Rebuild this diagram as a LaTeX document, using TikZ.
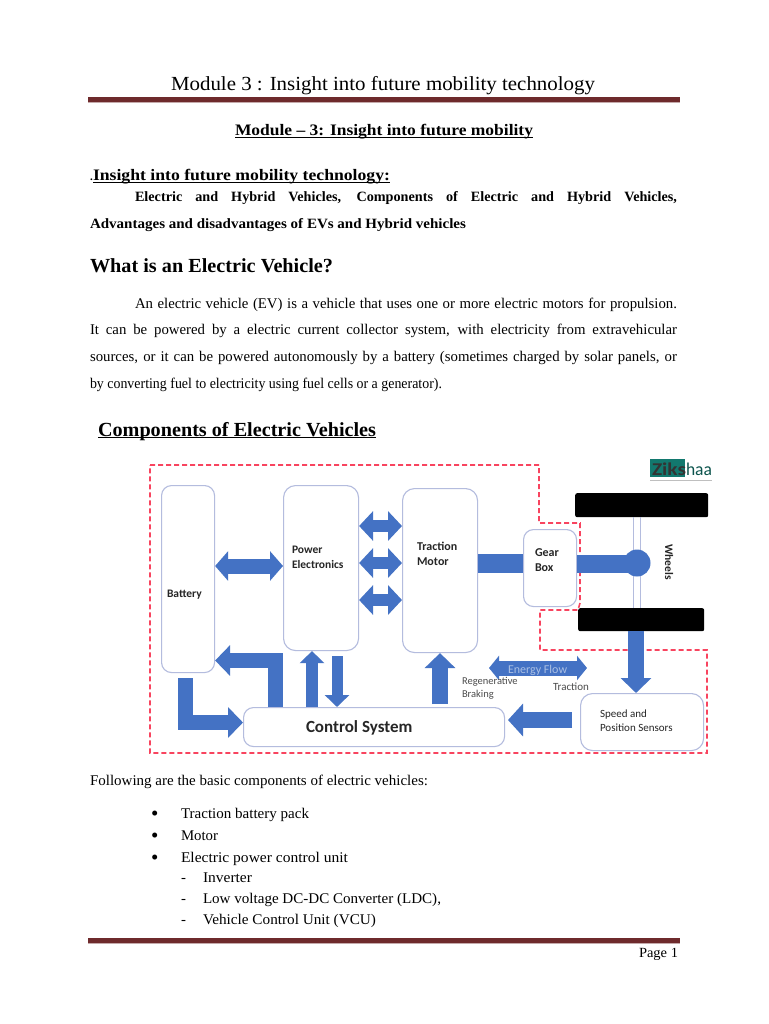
\documentclass[tikz,border=0pt]{standalone}
\usepackage{graphicx}
\usepackage{fontspec}
\setmainfont{Liberation Serif}
\newfontfamily\dia{Carlito}
\usetikzlibrary{arrows.meta}
\definecolor{evblue}{HTML}{4472C4}
\definecolor{evedge}{HTML}{B4BCDE}
\definecolor{evred}{HTML}{F8445F}
\definecolor{evrule}{HTML}{6E2A2C}
\definecolor{evteal}{HTML}{12786E}
\tikzset{
  box/.style={draw=evedge,line width=1.1pt,fill=white,rounded corners=#1,inner sep=0pt,anchor=north west},
  box/.default=10pt,
  tx/.style={anchor=base west,inner sep=0pt,outer sep=0pt,text=black},
  lab/.style={anchor=base west,inner sep=0pt,outer sep=0pt,font=\dia,align=left,text=black!85},
  wheel/.style={fill=black,rounded corners=2pt,inner sep=0pt,anchor=north west},
  blk/.style={draw=evblue,line join=miter,line cap=butt,line width=#1},
  blk/.default=15pt,
  dbl/.style n args={3}{draw=evblue,line width=#1,{Triangle[length=#2,width=#3]}-{Triangle[length=#2,width=#3]}},
  one/.style n args={3}{draw=evblue,line join=miter,line width=#1,-{Triangle[length=#2,width=#3]}},
}
% justified line: word spaces stretch to the width
\newcommand{\jl}[5]{\node[tx] (#1) at (#2,#3) {\makebox[#4pt][s]{#5}};}
% plain line: scaled to the width, spacing kept
\newcommand{\nl}[5]{\node[tx] (#1) at (#2,#3) {\resizebox{#4pt}{\height}{#5}};}
\newcommand{\ul}[5]{\node[tx] (#1) at (#2,#3) {\makebox[0pt][l]{\rule[-2.2pt]{#4pt}{1pt}}\resizebox{#4pt}{\height}{#5}};}
\begin{document}
\begin{tikzpicture}[x=1pt,y=-1pt]
\useasboundingbox (0,0) rectangle (768,1024);
\fill[white] (0,0) rectangle (768,1024);
% header
\nl{head}{171}{91}{424}{\fontsize{20}{20}\selectfont Module 3 : Insight into future mobility technology}
\fill[evrule] (88,97) rectangle (680,102);
\fill[evrule!40] (88,102) rectangle (680,103);
% text
\bfseries
\ul{t1}{235}{136}{298}{\fontsize{16}{16}\selectfont Module – 3: Insight into future mobility}
\node[tx] (t2a) at (90,181) {\fontsize{11}{11}\selectfont .};
\ul{t2}{93}{181}{297}{\fontsize{16}{16}\selectfont Insight into future mobility technology:}
\jl{t3}{135}{202}{542}{\fontsize{14.2}{14.2}\selectfont Electric and Hybrid Vehicles, Components of Electric and Hybrid Vehicles,}
\nl{t4}{90}{229}{376}{\fontsize{14.2}{14.2}\selectfont Advantages and disadvantages of EVs and Hybrid vehicles}
\nl{t5}{90}{272}{243}{\fontsize{20}{20}\selectfont What is an Electric Vehicle?}
\ul{t6}{98}{436}{278}{\fontsize{20}{20}\selectfont Components of Electric Vehicles}
\mdseries
\fontsize{14.8}{14.8}\selectfont
\jl{p1}{135}{308}{542}{An electric vehicle (EV) is a vehicle that uses one or more electric motors for propulsion.}
\jl{p2}{90}{334}{587}{It can be powered by a electric current collector system, with electricity from extravehicular}
\jl{p3}{90}{361}{587}{sources, or it can be powered autonomously by a battery (sometimes charged by solar panels, or}
\nl{p4}{90}{388}{352}{by converting fuel to electricity using fuel cells or a generator).}
\nl{f0}{90}{785}{338}{Following are the basic components of electric vehicles:}
\foreach \n/\y/\w/\s in {a/818/128/Traction battery pack,b/840/37/Motor,c/862/167/Electric power control unit}{
  \node[tx] (b\n) at (151,\y+2.5) {\fontsize{21}{21}\selectfont •};
  \nl{l\n}{181}{\y}{\w}{\s}
}
\foreach \n/\y/\w/\s in {d/882/49/Inverter,e/903/238/{Low voltage DC-DC Converter (LDC),},f/924/173/{Vehicle Control Unit (VCU)}}{
  \node[tx] (b\n) at (181,\y) {-};
  \nl{l\n}{203}{\y}{\w}{\s}
}
% footer
\fill[evrule] (88,938) rectangle (680,943);
\fill[evrule!40] (88,943) rectangle (680,944);
\nl{pg}{639}{957}{39}{\fontsize{14}{14}\selectfont Page 1}

% --- diagram ---
\draw[evred,line width=1.6pt,dash pattern=on 5pt off 3pt]
  (150,465) -- (539,465) -- (539,523) -- (580,523) -- (580,603) -- (578,610) -- (540,610) -- (540,650) -- (707,650) -- (707,753) -- (150,753) -- cycle;

\node[box] (bat) at (161,485) [minimum width=53pt,minimum height=187pt] {};
\node[box=12pt] (pe) at (283,485) [minimum width=75pt,minimum height=165pt] {};
\node[box=12pt] (tm) at (402,488) [minimum width=75pt,minimum height=164pt] {};
\node[box] (gb) at (523,529) [minimum width=53pt,minimum height=77pt] {};
\node[box] (cs) at (243,707) [minimum width=261pt,minimum height=39pt] {};
\node[box=12pt] (ss) at (580,693) [minimum width=123pt,minimum height=57pt] {};
\node[wheel] (wt) at (575,493) [minimum width=133pt,minimum height=24pt] {};
\node[wheel] (wb) at (578,608) [minimum width=126pt,minimum height=23pt] {};

% row coordinates
\coordinate (r0) at (0,566);
\coordinate (r1) at (0,526);
\coordinate (r2) at (0,563);
\coordinate (r3) at (0,600);
\coordinate (r4) at (0,563.5);
\coordinate (r5) at (0,660.5);
\coordinate (r6) at (0,722.5);
\coordinate (c1) at (312,0);
\coordinate (c2) at (337,0);
\coordinate (c3) at (440,0);
\coordinate (c4) at (636,0);
\coordinate (c5) at (275.5,0);
\coordinate (c6) at (185.5,0);
\coordinate (c7) at (633.5,0);
\coordinate (c8) at (640.5,0);
\coordinate (ef1) at (489,668);
\coordinate (ef2) at (587,668);
\coordinate (st) at (572,720);
\coordinate (sh) at (508,720);

% axle
\draw[evedge,line width=1pt] (c7|-wt.south) -- (c7|-wb.north);
\draw[evedge,line width=1pt] (c8|-wt.south) -- (c8|-wb.north);
\node[circle,fill=evblue,minimum size=27pt,inner sep=0pt] (hub) at (637,563) {};
% shafts
\draw[blk=19pt] (tm.east|-r4) -- (gb.west|-r4);
\draw[blk=18pt] (gb.east|-r4) -- (hub.center|-r4);
% arrows
\draw[dbl={15pt}{13pt}{29pt}] (bat.east|-r0) -- (pe.west|-r0);
\draw[dbl={12pt}{14pt}{29pt}] (pe.east|-r1) -- (tm.west|-r1);
\draw[dbl={12pt}{14pt}{29pt}] (pe.east|-r2) -- (tm.west|-r2);
\draw[dbl={12pt}{14pt}{29pt}] (pe.east|-r3) -- (tm.west|-r3);
\draw[one={15pt}{15pt}{30pt}] (c5|-cs.north) -- (c5|-r5) -- (bat.east|-r5);
\draw[one={15pt}{15pt}{30pt}] (c6|-bat.south) ++(0,5) -- (c6|-r6) -- (cs.west|-r6);
\draw[one={12pt}{12pt}{24pt}] (c1|-cs.north) -- (c1|-pe.south);
\draw[one={11pt}{12pt}{24pt}] (c2|-pe.south) ++(0,5) -- (c2|-cs.north);
\draw[one={16pt}{15pt}{30pt}] (c3|-cs.north) ++(0,-3) -- (c3|-tm.south);
\draw[dbl={15pt}{10pt}{24pt}] (ef1) -- (ef2);
\draw[one={16pt}{15pt}{32pt}] (st) -- (sh);
\draw[one={16pt}{15pt}{30pt}] (c4|-wb.south) -- (c4|-ss.north);

% labels
\node[lab,font=\dia\bfseries\fontsize{11.5}{11.5}\selectfont] (lbat) at (167,597) {Battery};
\node[lab,font=\dia\bfseries\fontsize{11.5}{15}\selectfont,anchor=north west] (lpe) at (292,546) {Power\\Electronics};
\node[lab,font=\dia\bfseries\fontsize{12}{15}\selectfont,anchor=north west] (ltm) at (417,542) {Traction\\Motor};
\node[lab,font=\dia\bfseries\fontsize{12}{15}\selectfont,anchor=north west] (lgb) at (535,549) {Gear\\Box};
\node[lab,font=\dia\bfseries\fontsize{17}{17}\selectfont] (lcs) at (306,732) {Control System};
\node[lab,font=\dia\fontsize{11}{14}\selectfont,anchor=north west] (lss) at (600,710) {Speed and\\Position Sensors};
\node[lab,font=\dia\fontsize{10.5}{13}\selectfont,anchor=north west,text=black!70] (lrb) at (462,677) {Regenerative\\Braking};
\node[lab,font=\dia\fontsize{11}{11}\selectfont,text=black!70] (ltr) at (553,690) {Traction};
\node[lab,font=\dia\fontsize{12}{12}\selectfont,text=evblue!45] (lef) at (508,673) {Energy Flow};
\node[inner sep=0pt,rotate=-90,font=\dia\bfseries\fontsize{11.5}{11.5}\selectfont,text=black!85] (lw) at (669,562) {Wheels};

% logo
\node[fill=evteal,minimum width=35pt,minimum height=18pt,inner sep=0pt,anchor=north west] (lg) at (650,459) {};
\nl{lgt}{652}{475}{34}{\dia\bfseries\fontsize{18}{18}\selectfont\color{black!80}Ziks}
\nl{lgu}{686}{475}{26}{\dia\fontsize{18}{18}\selectfont\color{evteal!70!black}haa}
\draw[black!25,line width=0.9pt] (lg.south west) ++(0,3) -- ++(62,0);
\end{tikzpicture}
\end{document}
